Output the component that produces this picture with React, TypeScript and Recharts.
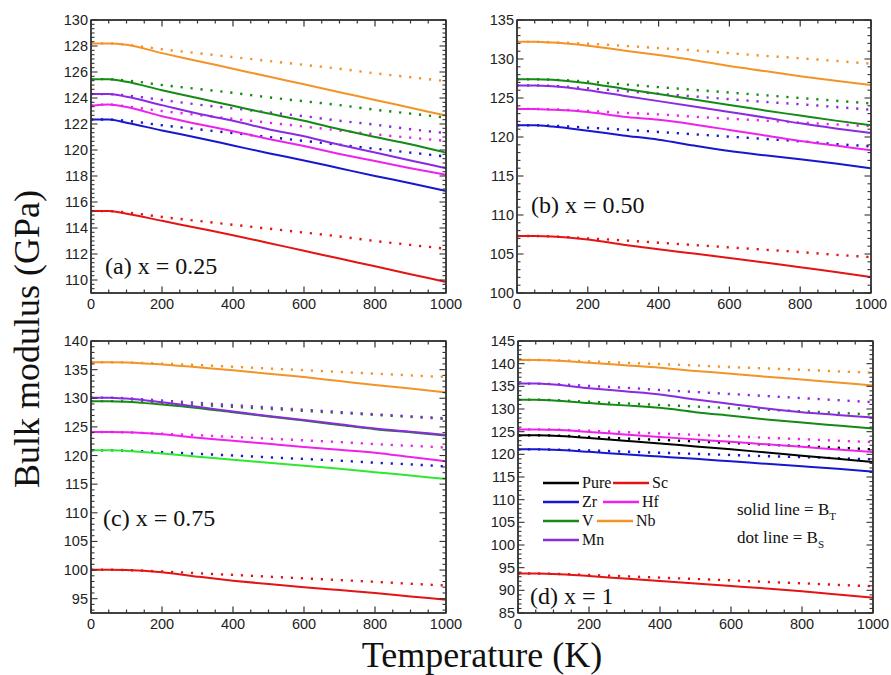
import React from 'react';
import { LineChart, Line, XAxis, YAxis } from 'recharts';

// temperature grid (K)
const temps = [0, 50, 100, 200, 300, 400, 500, 600, 700, 800, 900, 1000];
const xMajor = [0, 200, 400, 600, 800, 1000];
const xTicks = [0, 50, 100, 150, 200, 250, 300, 350, 400, 450, 500, 550, 600, 650, 700, 750, 800, 850, 900, 950, 1000];

// (a) x = 0.25   _T = solid (B_T), _S = dotted (B_S)
const aNbT = [128.2, 128.2, 128.1, 127.45, 126.85, 126.25, 125.65, 125.05, 124.45, 123.85, 123.25, 122.65];
const aNbS = [128.2, 128.2, 128.1, 127.75, 127.45, 127.15, 126.85, 126.55, 126.25, 125.9, 125.6, 125.3];
const aVT = [125.45, 125.45, 125.25, 124.6, 124.0, 123.4, 122.8, 122.25, 121.6, 121.0, 120.45, 119.8];
const aVS = [125.45, 125.45, 125.35, 125.0, 124.7, 124.4, 124.05, 123.75, 123.45, 123.1, 122.8, 122.5];
const aMnT = [124.3, 124.3, 124.1, 123.45, 122.8, 122.25, 121.6, 121.05, 120.4, 119.8, 119.2, 118.6];
const aMnS = [124.3, 124.3, 124.2, 123.85, 123.5, 123.2, 122.9, 122.6, 122.25, 121.95, 121.6, 121.3];
const aHfT = [123.4, 123.5, 123.3, 122.6, 122.0, 121.45, 120.85, 120.3, 119.7, 119.15, 118.6, 118.1];
const aHfS = [123.4, 123.5, 123.35, 123.0, 122.7, 122.4, 122.1, 121.8, 121.5, 121.2, 120.95, 120.7];
const aZrT = [122.35, 122.35, 122.1, 121.5, 120.95, 120.35, 119.75, 119.2, 118.6, 118.0, 117.45, 116.85];
const aZrS = [122.35, 122.35, 122.25, 121.9, 121.6, 121.3, 121.0, 120.7, 120.4, 120.1, 119.8, 119.5];
const aScT = [115.3, 115.3, 115.1, 114.55, 114.0, 113.45, 112.85, 112.25, 111.65, 111.05, 110.45, 109.85];
const aScS = [115.3, 115.3, 115.2, 114.85, 114.55, 114.25, 113.95, 113.65, 113.35, 113.0, 112.7, 112.4];

// (b) x = 0.50
const bNbT = [132.2, 132.2, 132.1, 131.7, 131.1, 130.5, 129.85, 129.1, 128.45, 127.8, 127.2, 126.65];
const bNbS = [132.2, 132.2, 132.15, 131.95, 131.7, 131.4, 131.1, 130.75, 130.4, 130.1, 129.75, 129.4];
const bVT = [127.4, 127.4, 127.35, 126.9, 126.2, 125.5, 124.8, 124.1, 123.4, 122.75, 122.1, 121.5];
const bVS = [127.4, 127.4, 127.35, 127.1, 126.75, 126.4, 126.05, 125.7, 125.35, 125.0, 124.65, 124.3];
const bMnT = [126.6, 126.6, 126.5, 126.0, 125.3, 124.6, 123.9, 123.2, 122.5, 121.75, 121.1, 120.5];
const bMnS = [126.6, 126.6, 126.55, 126.25, 125.9, 125.55, 125.2, 124.85, 124.5, 124.2, 123.85, 123.5];
const bHfT = [123.6, 123.6, 123.5, 123.2, 122.6, 122.2, 121.6, 120.9, 120.2, 119.5, 118.9, 118.3];
const bHfS = [123.6, 123.6, 123.55, 123.35, 123.1, 122.9, 122.6, 122.35, 122.1, 121.85, 121.6, 121.4];
const bZrT = [121.5, 121.5, 121.35, 120.8, 120.2, 119.65, 118.9, 118.2, 117.65, 117.15, 116.6, 116.0];
const bZrS = [121.5, 121.5, 121.45, 121.2, 120.95, 120.65, 120.35, 120.05, 119.75, 119.45, 119.1, 118.8];
const bScT = [107.3, 107.3, 107.25, 106.85, 106.2, 105.6, 105.05, 104.5, 103.9, 103.3, 102.7, 102.05];
const bScS = [107.3, 107.3, 107.25, 107.0, 106.75, 106.45, 106.15, 105.85, 105.55, 105.25, 104.9, 104.6];

// (c) x = 0.75
const cNbT = [136.3, 136.3, 136.25, 135.9, 135.4, 134.9, 134.3, 133.7, 133.0, 132.3, 131.7, 131.0];
const cNbS = [136.3, 136.3, 136.25, 136.05, 135.8, 135.5, 135.2, 134.9, 134.6, 134.3, 134.0, 133.7];
const cMnT = [130.1, 130.1, 129.95, 129.3, 128.5, 127.7, 126.9, 126.2, 125.45, 124.7, 124.15, 123.6];
const cMnS = [130.1, 130.1, 130.0, 129.6, 129.2, 128.8, 128.4, 128.0, 127.6, 127.2, 126.85, 126.5];
const cVT = [129.5, 129.5, 129.4, 128.9, 128.3, 127.55, 126.8, 126.1, 125.35, 124.6, 124.05, 123.5];
const cVS = [129.5, 129.5, 129.45, 129.15, 128.85, 128.5, 128.15, 127.8, 127.45, 127.1, 126.75, 126.4];
const cHfT = [124.1, 124.1, 124.05, 123.7, 123.1, 122.6, 122.05, 121.5, 121.0, 120.5, 119.75, 119.0];
const cHfS = [124.1, 124.1, 124.05, 123.8, 123.55, 123.25, 122.95, 122.65, 122.35, 122.0, 121.7, 121.4];
const cZrT = [120.9, 120.9, 120.8, 120.35, 119.8, 119.25, 118.75, 118.2, 117.7, 117.1, 116.5, 115.9];
const cZrS = [120.9, 120.9, 120.85, 120.6, 120.3, 120.0, 119.7, 119.4, 119.1, 118.75, 118.45, 118.1];
const cScT = [100.05, 100.05, 100.0, 99.6, 98.85, 98.15, 97.55, 97.0, 96.5, 96.0, 95.4, 94.8];
const cScS = [100.05, 100.05, 100.0, 99.75, 99.45, 99.15, 98.85, 98.55, 98.25, 97.95, 97.6, 97.3];

// (d) x = 1
const dNbT = [140.8, 140.8, 140.7, 140.2, 139.65, 139.1, 138.4, 137.8, 137.1, 136.5, 135.85, 135.2];
const dNbS = [140.8, 140.8, 140.75, 140.5, 140.2, 139.9, 139.6, 139.25, 138.95, 138.65, 138.3, 138.0];
const dMnT = [135.6, 135.6, 135.4, 134.6, 133.9, 133.2, 132.1, 131.1, 130.1, 129.3, 128.7, 128.1];
const dMnS = [135.6, 135.6, 135.5, 135.1, 134.7, 134.2, 133.75, 133.3, 132.85, 132.4, 131.95, 131.5];
const dVT = [132.05, 132.05, 131.9, 131.3, 130.8, 130.25, 129.3, 128.5, 127.7, 127.0, 126.35, 125.7];
const dVS = [132.05, 132.05, 131.95, 131.6, 131.25, 130.9, 130.55, 130.2, 129.85, 129.5, 129.15, 128.8];
const dHfT = [125.5, 125.5, 125.4, 124.95, 124.4, 123.85, 123.3, 122.75, 122.2, 121.65, 121.05, 120.5];
const dHfS = [125.5, 125.5, 125.45, 125.2, 124.9, 124.6, 124.3, 124.0, 123.65, 123.35, 123.0, 122.7];
const dPureT = [124.2, 124.2, 124.1, 123.6, 123.0, 122.4, 121.75, 121.1, 120.4, 119.7, 119.0, 118.3];
const dPureS = [124.2, 124.2, 124.15, 123.85, 123.5, 123.2, 122.85, 122.5, 122.15, 121.8, 121.45, 121.1];
const dZrT = [121.1, 121.1, 121.0, 120.55, 120.0, 119.5, 119.0, 118.45, 117.9, 117.35, 116.8, 116.2];
const dZrS = [121.1, 121.1, 121.05, 120.85, 120.6, 120.35, 120.1, 119.85, 119.6, 119.4, 119.15, 118.9];
const dScT = [93.7, 93.7, 93.6, 93.15, 92.6, 92.05, 91.5, 90.95, 90.4, 89.8, 89.1, 88.35];
const dScS = [93.7, 93.7, 93.65, 93.4, 93.1, 92.8, 92.5, 92.2, 91.85, 91.55, 91.2, 90.9];

const colors: Record<string, string> = {
  Pure: '#000000',
  Sc: '#e41414',
  Zr: '#1717cf',
  Hf: '#ee22ee',
  V: '#158a15',
  Nb: '#f29428',
  Mn: '#8a2be2',
};

type Series = { el: string; bt: number[]; bs: number[]; solidColor?: string };
type PanelDef = {
  box: { x: number; y: number; w: number; h: number };
  domain: [number, number];
  yMajor: number[];
  yStep: number;
  label: string;
  labelPos: [number, number];
  series: Series[];
};

const panelDefs: PanelDef[] = [
  {
    box: { x: 91, y: 20, w: 355, h: 273 },
    domain: [109, 130],
    yMajor: [110, 112, 114, 116, 118, 120, 122, 124, 126, 128, 130],
    yStep: 1 / 3,
    label: '(a) x = 0.25',
    labelPos: [105, 274],
    series: [
      { el: 'Sc', bt: aScT, bs: aScS },
      { el: 'Zr', bt: aZrT, bs: aZrS },
      { el: 'Hf', bt: aHfT, bs: aHfS },
      { el: 'V', bt: aVT, bs: aVS },
      { el: 'Mn', bt: aMnT, bs: aMnS },
      { el: 'Nb', bt: aNbT, bs: aNbS },
    ],
  },
  {
    box: { x: 517, y: 20, w: 354, h: 273 },
    domain: [100, 135],
    yMajor: [100, 105, 110, 115, 120, 125, 130, 135],
    yStep: 1,
    label: '(b) x = 0.50',
    labelPos: [531, 213],
    series: [
      { el: 'Sc', bt: bScT, bs: bScS },
      { el: 'Zr', bt: bZrT, bs: bZrS },
      { el: 'Hf', bt: bHfT, bs: bHfS },
      { el: 'V', bt: bVT, bs: bVS },
      { el: 'Mn', bt: bMnT, bs: bMnS },
      { el: 'Nb', bt: bNbT, bs: bNbS },
    ],
  },
  {
    box: { x: 91, y: 341, w: 355, h: 272 },
    domain: [92.5, 140],
    yMajor: [95, 100, 105, 110, 115, 120, 125, 130, 135, 140],
    yStep: 1,
    label: '(c) x = 0.75',
    labelPos: [103, 526],
    series: [
      { el: 'Sc', bt: cScT, bs: cScS },
      { el: 'Zr', bt: cZrT, bs: cZrS, solidColor: '#2ee82e' },
      { el: 'Hf', bt: cHfT, bs: cHfS },
      { el: 'V', bt: cVT, bs: cVS },
      { el: 'Mn', bt: cMnT, bs: cMnS },
      { el: 'Nb', bt: cNbT, bs: cNbS },
    ],
  },
  {
    box: { x: 518, y: 341, w: 355, h: 272 },
    domain: [85, 145],
    yMajor: [85, 90, 95, 100, 105, 110, 115, 120, 125, 130, 135, 140, 145],
    yStep: 1,
    label: '(d) x = 1',
    labelPos: [530, 604],
    series: [
      { el: 'Sc', bt: dScT, bs: dScS },
      { el: 'Zr', bt: dZrT, bs: dZrS },
      { el: 'Pure', bt: dPureT, bs: dPureS },
      { el: 'Hf', bt: dHfT, bs: dHfS },
      { el: 'V', bt: dVT, bs: dVS },
      { el: 'Mn', bt: dMnT, bs: dMnS },
      { el: 'Nb', bt: dNbT, bs: dNbS },
    ],
  },
];

// legend entries in (d): [element, line x0, row]
const legendItems: [string, number, number][] = [
  ['Pure', 543, 0], ['Sc', 613, 0],
  ['Zr', 543, 1], ['Hf', 603, 1],
  ['V', 543, 2], ['Nb', 597, 2],
  ['Mn', 543, 3],
];

const sans = 'Arial, "Liberation Sans", sans-serif';
const serif = '"Times New Roman", "Liberation Serif", serif';
const axisStroke = { stroke: '#333', strokeWidth: 1.4 };

function minorTicks(min: number, max: number, step: number) {
  const out: number[] = [];
  const start = Math.ceil(min / step - 1e-6) * step;
  for (let v = start; v <= max + 1e-6; v += step) out.push(Math.round(v * 1000) / 1000);
  return out;
}

const isMajorY = (majors: number[], v: number) => majors.some(m => Math.abs(m - v) < 1e-3);

const bottomTick = (props: any) => {
  const { x, y, payload } = props;
  if (!xMajor.includes(payload.value)) return <g />;
  return <text x={x} y={y + 16} textAnchor="middle" fontFamily={sans} fontSize={14.5} fill="#222">{payload.value}</text>;
};

const leftTick = (majors: number[]) => (props: any) => {
  const { x, y, payload } = props;
  if (!isMajorY(majors, payload.value)) return <g />;
  return <text x={x - 3} y={y + 5} textAnchor="end" fontFamily={sans} fontSize={14.5} fill="#222">{payload.value}</text>;
};

// everything a chart needs, built once at load so props stay stable between renders
const panels = panelDefs.map(p => ({
  ...p,
  data: temps.map((t, i) => {
    const row: Record<string, number> = { T: t };
    p.series.forEach(s => {
      row[s.el + '_T'] = s.bt[i];
      row[s.el + '_S'] = s.bs[i];
    });
    return row;
  }),
  yTicks: minorTicks(p.domain[0], p.domain[1], p.yStep),
  leftTick: leftTick(p.yMajor),
}));

type Panel = (typeof panels)[number];

function PanelChart({ p }: { p: Panel }) {
  const padL = 60, padT = 10, padR = 20, padB = 25;
  return (
    <div style={{ position: 'absolute', left: p.box.x - padL, top: p.box.y - padT }}>
      <LineChart
        width={p.box.w + padL + padR}
        height={p.box.h + padT + padB}
        data={p.data}
        margin={{ top: padT - 1, right: padR - 1, left: 0, bottom: 0 }}
      >
        <XAxis dataKey="T" type="number" domain={[0, 1000]} ticks={xTicks} interval={0}
          height={padB} tickSize={0} tickMargin={0} tickLine={false} axisLine={axisStroke} tick={bottomTick} />
        <XAxis xAxisId="top" orientation="top" dataKey="T" type="number" domain={[0, 1000]} ticks={xTicks} interval={0}
          height={1} tickSize={0} tickLine={false} axisLine={axisStroke} tick={false} />
        <YAxis type="number" domain={p.domain} ticks={p.yTicks} interval={0} allowDataOverflow
          width={padL} tickSize={0} tickMargin={0} tickLine={false} axisLine={axisStroke} tick={p.leftTick} />
        <YAxis yAxisId="right" orientation="right" type="number" domain={p.domain} ticks={p.yTicks} interval={0} allowDataOverflow
          width={1} tickSize={0} tickLine={false} axisLine={axisStroke} tick={false} />
        {p.series.map(s => (
          <Line key={s.el + 'S'} type="monotone" dataKey={s.el + '_S'} stroke={colors[s.el]} strokeWidth={2.4}
            strokeDasharray="2.2 7.8" dot={false} isAnimationActive={false} />
        ))}
        {p.series.map(s => (
          <Line key={s.el + 'T'} type="monotone" dataKey={s.el + '_T'} stroke={s.solidColor || colors[s.el]} strokeWidth={2}
            dot={false} isAnimationActive={false} />
        ))}
      </LineChart>
    </div>
  );
}

// inward frame ticks for one panel, from the same tick values the axes use
function Frame({ p }: { p: Panel }) {
  const { x, y, w, h } = p.box;
  const [d0, d1] = p.domain;
  const px = (t: number) => x + (w * t) / 1000;
  const py = (v: number) => y + (h * (d1 - v)) / (d1 - d0);
  return (
    <g stroke="#333">
      <rect x={x} y={y} width={w} height={h} fill="none" strokeWidth={1.4} />
      {xTicks.map(t => {
        const len = xMajor.includes(t) ? 6.5 : 3.5;
        return (
          <g key={'x' + t} strokeWidth={1.2}>
            <line x1={px(t)} x2={px(t)} y1={y + h} y2={y + h - len} />
            <line x1={px(t)} x2={px(t)} y1={y} y2={y + len} />
          </g>
        );
      })}
      {p.yTicks.map(v => {
        const len = isMajorY(p.yMajor, v) ? 6.5 : 3.5;
        return (
          <g key={'y' + v} strokeWidth={1.1}>
            <line x1={x} x2={x + len} y1={py(v)} y2={py(v)} />
            <line x1={x + w} x2={x + w - len} y1={py(v)} y2={py(v)} />
          </g>
        );
      })}
    </g>
  );
}

export default function App() {
  return (
    <div style={{ position: 'absolute', left: 0, top: 0, width: 891, height: 675 }}>
      {panels.map((p, i) => <PanelChart key={i} p={p} />)}
      <svg width={891} height={675} style={{ position: 'absolute', left: 0, top: 0, pointerEvents: 'none' }}>
        {panels.map((p, i) => <Frame key={'f' + i} p={p} />)}
        {panels.map((p, i) => (
          <text key={i} x={p.labelPos[0]} y={p.labelPos[1]} fontFamily={serif} fontSize={24} fill="#111">{p.label}</text>
        ))}
        <text transform="translate(39,339) rotate(-90)" textAnchor="middle" fontFamily={serif} fontSize={36} fill="#111">
          Bulk modulus (GPa)
        </text>
        <text x={482} y={667} textAnchor="middle" fontFamily={serif} fontSize={36} fill="#111">Temperature (K)</text>
        {legendItems.map(([el, x0, row]) => {
          const y = 483 + row * 19;
          return (
            <g key={el}>
              <line x1={x0} x2={x0 + 36} y1={y} y2={y} stroke={colors[el]} strokeWidth={2.4} />
              <text x={x0 + 39} y={y + 5} fontFamily={serif} fontSize={16} fill="#111">{el}</text>
            </g>
          );
        })}
        <text x={737} y={515} fontFamily={serif} fontSize={17} fill="#111">
          solid line = B<tspan fontSize={11} dy={5}>T</tspan>
        </text>
        <text x={737} y={543} fontFamily={serif} fontSize={17} fill="#111">
          dot line = B<tspan fontSize={11} dy={5}>S</tspan>
        </text>
      </svg>
    </div>
  );
}
